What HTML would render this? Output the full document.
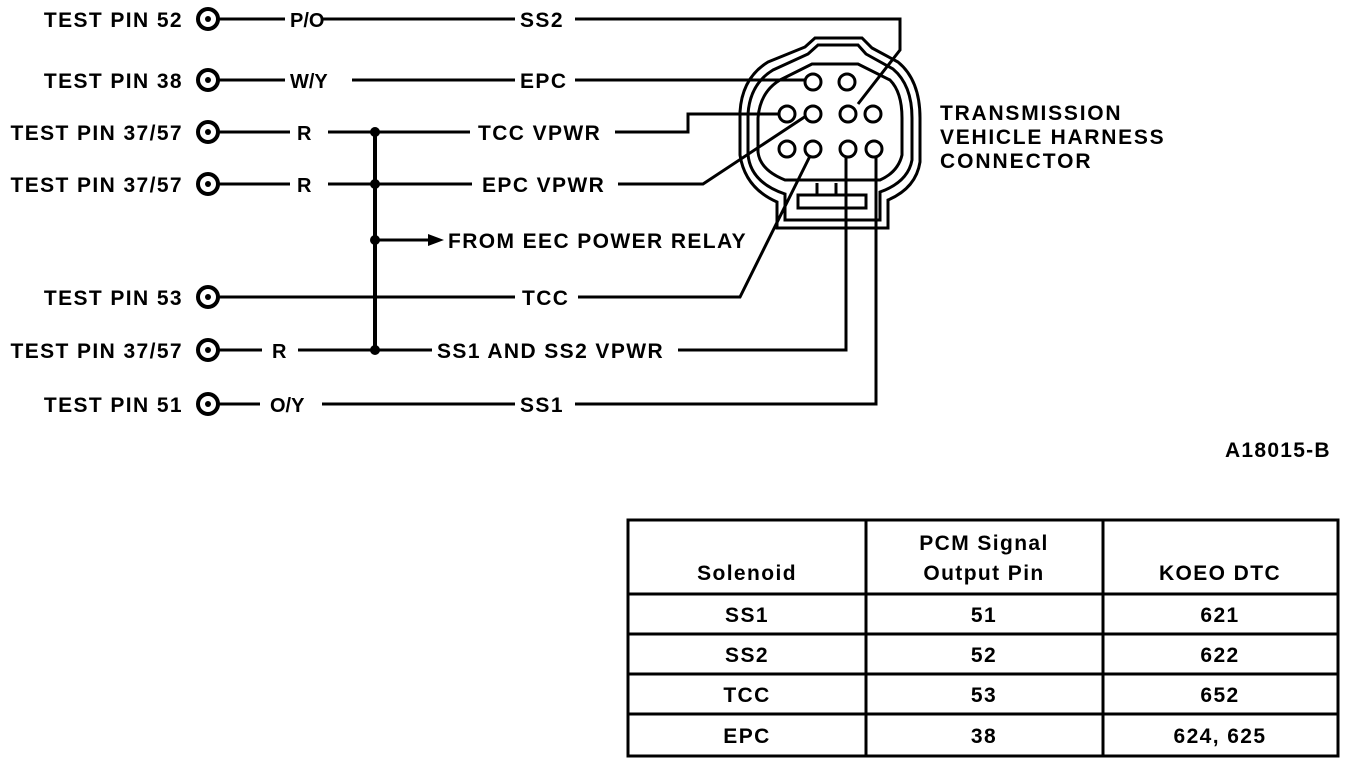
<!DOCTYPE html>
<html><head><meta charset="utf-8"><style>
html,body{margin:0;padding:0;background:#fff;}
svg{display:block;}
text{font-family:"Liberation Sans",Arial,sans-serif;font-weight:bold;fill:#000;}
.w{font-size:21px;letter-spacing:1.4px;}
</style></head><body>
<svg width="1360" height="766" viewBox="0 0 1360 766" xmlns="http://www.w3.org/2000/svg">
<g class="w">
<text x="183" y="27" text-anchor="end">TEST PIN 52</text>
<text x="183" y="88" text-anchor="end">TEST PIN 38</text>
<text x="183" y="140" text-anchor="end">TEST PIN 37/57</text>
<text x="183" y="192" text-anchor="end">TEST PIN 37/57</text>
<text x="183" y="305" text-anchor="end">TEST PIN 53</text>
<text x="183" y="358" text-anchor="end">TEST PIN 37/57</text>
<text x="183" y="412" text-anchor="end">TEST PIN 51</text>
</g>
<g fill="#fff" stroke="#000" stroke-width="4">
<circle cx="208" cy="19" r="10"/><circle cx="208" cy="80" r="10"/><circle cx="208" cy="132" r="10"/>
<circle cx="208" cy="184" r="10"/><circle cx="208" cy="297" r="10"/><circle cx="208" cy="350" r="10"/><circle cx="208" cy="404" r="10"/>
</g>
<g fill="#000">
<circle cx="208" cy="19" r="3"/><circle cx="208" cy="80" r="3"/><circle cx="208" cy="132" r="3"/>
<circle cx="208" cy="184" r="3"/><circle cx="208" cy="297" r="3"/><circle cx="208" cy="350" r="3"/><circle cx="208" cy="404" r="3"/>
</g>
<g stroke="#000" stroke-width="3" fill="none">
<path d="M218 19H285M322 19H515M575 19H900V50L858 104"/>
<path d="M218 80H285M352 80H515M575 80H804"/>
<path d="M218 132H290M328 132H470M615 132H688V114H778"/>
<path d="M218 184H290M328 184H472M618 184H703L806 116"/>
<path d="M218 297H515M578 297H740L810 156"/>
<path d="M218 350H262M298 350H432M678 350H846V157"/>
<path d="M218 404H260M322 404H515M575 404H876V157"/>
<path d="M375 132V350" stroke-width="4"/>
<path d="M375 240H430"/>
</g>
<polygon points="444,240 428,234 428,246" fill="#000"/>
<g fill="#000"><circle cx="375" cy="132" r="5"/><circle cx="375" cy="184" r="5"/><circle cx="375" cy="240" r="5"/><circle cx="375" cy="350" r="5"/></g>
<g font-size="20">
<text x="290" y="27">P/O</text>
<text x="290" y="88">W/Y</text>
<text x="297" y="140">R</text>
<text x="297" y="192">R</text>
<text x="272" y="358">R</text>
<text x="270" y="412">O/Y</text>
</g>
<g class="w">
<text x="520" y="27">SS2</text>
<text x="520" y="88">EPC</text>
<text x="478" y="140">TCC VPWR</text>
<text x="482" y="192">EPC VPWR</text>
<text x="448" y="248">FROM EEC POWER RELAY</text>
<text x="522" y="305">TCC</text>
<text x="437" y="358">SS1 AND SS2 VPWR</text>
<text x="520" y="412">SS1</text>
</g>
<!-- connector -->
<g stroke="#000" stroke-width="3" fill="none">
<path d="M768 62L805 47L815 38L862 38L872 48L898 62Q920 80 920 118L920 162Q916 188 888 200L888 228L777 228L777 202Q745 188 740 155L740 112Q742 78 768 62Z"/>
<path d="M773 70L808 54L818 45L858 45L866 54L893 69Q912 85 912 118L912 160Q908 182 880 192L880 220L785 220L785 194Q750 182 748 154L748 114Q750 84 773 70Z"/>
<path d="M780 80L812 64L858 64L890 80Q902 92 902 118L902 155Q898 172 880 180L785 180Q760 170 758 152L758 118Q760 92 780 80Z"/>
<path d="M798 195H866V208H798Z M817 183V195 M836 183V195"/>
</g>
<g fill="#fff" stroke="#000" stroke-width="3">
<circle cx="813" cy="82" r="8"/><circle cx="847" cy="82" r="8"/>
<circle cx="787" cy="114" r="8"/><circle cx="813" cy="114" r="8"/><circle cx="848" cy="114" r="8"/><circle cx="873" cy="114" r="8"/>
<circle cx="787" cy="149" r="8"/><circle cx="813" cy="149" r="8"/><circle cx="848" cy="149" r="8"/><circle cx="874" cy="149" r="8"/>
</g>
<g class="w">
<text x="940" y="120" textLength="182">TRANSMISSION</text>
<text x="940" y="144" textLength="225">VEHICLE HARNESS</text>
<text x="940" y="168" textLength="152">CONNECTOR</text>
<text x="1225" y="457" textLength="106">A18015-B</text>
</g>
<!-- table -->
<g stroke="#000" fill="none">
<rect x="628" y="520" width="710" height="236" stroke-width="3"/>
<path d="M866 520V756M1103 520V756" stroke-width="3"/>
<path d="M628 594H1338" stroke-width="3"/>
<path d="M628 634H1338M628 674H1338M628 714H1338" stroke-width="3"/>
</g>
<g class="w" text-anchor="middle">
<text x="747" y="580">Solenoid</text>
<text x="984" y="550">PCM Signal</text>
<text x="984" y="580">Output Pin</text>
<text x="1220" y="580">KOEO DTC</text>
<text x="747" y="622">SS1</text><text x="984" y="622">51</text><text x="1220" y="622">621</text>
<text x="747" y="662">SS2</text><text x="984" y="662">52</text><text x="1220" y="662">622</text>
<text x="747" y="702">TCC</text><text x="984" y="702">53</text><text x="1220" y="702">652</text>
<text x="747" y="743">EPC</text><text x="984" y="743">38</text><text x="1220" y="743">624, 625</text>
</g>
</svg>
</body></html>
